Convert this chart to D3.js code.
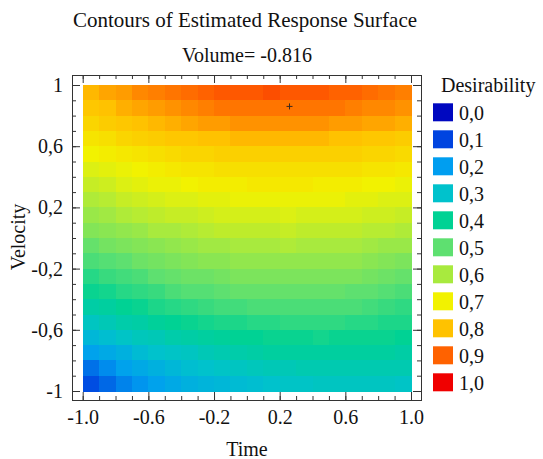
<!DOCTYPE html>
<html>
<head>
<meta charset="utf-8">
<script src="https://cdn.jsdelivr.net/npm/d3@7"></script>
<style>
  html, body { margin: 0; padding: 0; background: #fff; }
  svg { display: block; }
  text { font-family: "Liberation Serif", "Times New Roman", serif; fill: #111; }
</style>
</head>
<body>
<svg id="chart" width="543" height="459"></svg>
<script>
// ---------- data ----------
const titleText = "Contours of Estimated Response Surface";
const subtitleText = "Volume= -0.816";
const xLabel = "Time";
const yLabel = "Velocity";
const legendTitle = "Desirability";

// cell centres (Time across, Velocity down)
const timeCenters = [-0.95,-0.85,-0.75,-0.65,-0.55,-0.45,-0.35,-0.25,-0.15,-0.05,0.05,0.15,0.25,0.35,0.45,0.55,0.65,0.75,0.85,0.95];
const velocityCenters = [0.95,0.85,0.75,0.65,0.55,0.45,0.35,0.25,0.15,0.05,-0.05,-0.15,-0.25,-0.35,-0.45,-0.55,-0.65,-0.75,-0.85,-0.95];
const cellSize = 0.1;

// estimated desirability, one row per velocity centre
const desirability = [
  [0.81,0.83,0.84,0.86,0.87,0.88,0.89,0.90,0.91,0.91,0.91,0.92,0.91,0.91,0.91,0.90,0.90,0.89,0.88,0.87],
  [0.79,0.80,0.82,0.83,0.84,0.85,0.86,0.87,0.88,0.88,0.88,0.88,0.88,0.88,0.88,0.88,0.87,0.86,0.86,0.85],
  [0.76,0.78,0.79,0.80,0.81,0.82,0.83,0.84,0.84,0.85,0.85,0.85,0.85,0.85,0.85,0.84,0.84,0.83,0.83,0.82],
  [0.73,0.74,0.76,0.77,0.78,0.79,0.79,0.80,0.80,0.81,0.81,0.81,0.81,0.81,0.81,0.80,0.80,0.79,0.79,0.78],
  [0.70,0.71,0.72,0.73,0.74,0.75,0.76,0.76,0.77,0.77,0.77,0.77,0.77,0.77,0.77,0.77,0.77,0.76,0.76,0.75],
  [0.67,0.68,0.69,0.70,0.71,0.72,0.73,0.73,0.74,0.74,0.74,0.74,0.74,0.74,0.74,0.74,0.74,0.73,0.73,0.72],
  [0.64,0.65,0.67,0.68,0.69,0.69,0.70,0.71,0.71,0.71,0.72,0.72,0.72,0.72,0.71,0.71,0.71,0.70,0.70,0.69],
  [0.61,0.62,0.64,0.65,0.66,0.67,0.67,0.68,0.68,0.69,0.69,0.69,0.69,0.69,0.69,0.69,0.68,0.68,0.67,0.67],
  [0.58,0.59,0.61,0.62,0.63,0.64,0.64,0.65,0.66,0.66,0.66,0.66,0.67,0.66,0.66,0.66,0.66,0.65,0.65,0.64],
  [0.55,0.56,0.57,0.58,0.60,0.60,0.61,0.62,0.63,0.63,0.63,0.63,0.64,0.63,0.63,0.63,0.63,0.62,0.62,0.61],
  [0.51,0.53,0.54,0.55,0.56,0.57,0.58,0.59,0.59,0.60,0.60,0.60,0.61,0.60,0.60,0.60,0.60,0.59,0.58,0.58],
  [0.48,0.49,0.50,0.52,0.53,0.54,0.55,0.56,0.56,0.57,0.57,0.57,0.57,0.57,0.57,0.57,0.57,0.56,0.55,0.54],
  [0.44,0.46,0.47,0.48,0.50,0.51,0.52,0.52,0.53,0.54,0.54,0.54,0.54,0.54,0.54,0.54,0.54,0.53,0.52,0.51],
  [0.41,0.42,0.44,0.45,0.46,0.48,0.49,0.49,0.50,0.51,0.51,0.51,0.51,0.51,0.51,0.51,0.50,0.50,0.49,0.48],
  [0.37,0.38,0.40,0.41,0.43,0.44,0.45,0.46,0.47,0.47,0.48,0.48,0.48,0.48,0.48,0.48,0.48,0.47,0.46,0.45],
  [0.32,0.34,0.36,0.37,0.39,0.40,0.41,0.42,0.43,0.43,0.44,0.44,0.45,0.45,0.45,0.45,0.44,0.44,0.43,0.43],
  [0.27,0.29,0.31,0.33,0.34,0.36,0.37,0.38,0.39,0.40,0.40,0.41,0.41,0.41,0.42,0.41,0.41,0.41,0.41,0.40],
  [0.21,0.23,0.25,0.28,0.30,0.31,0.32,0.34,0.35,0.36,0.37,0.38,0.38,0.38,0.38,0.38,0.38,0.38,0.38,0.37],
  [0.15,0.18,0.21,0.23,0.25,0.27,0.29,0.30,0.31,0.32,0.33,0.34,0.34,0.35,0.35,0.35,0.35,0.35,0.35,0.35],
  [0.11,0.14,0.17,0.19,0.21,0.23,0.25,0.26,0.27,0.28,0.29,0.30,0.31,0.31,0.32,0.32,0.32,0.32,0.32,0.31]
];

const xTickValues = [-1, -0.6, -0.2, 0.2, 0.6, 1];
const xTickLabels = ["-1.0", "-0.6", "-0.2", "0.2", "0.6", "1.0"];
const yTickValues = [1, 0.6, 0.2, -0.2, -0.6, -1];
const yTickLabels = ["1", "0,6", "0,2", "-0,2", "-0,6", "-1"];
const minorTickValues = [-1,-0.9,-0.8,-0.7,-0.6,-0.5,-0.4,-0.3,-0.2,-0.1,0,0.1,0.2,0.3,0.4,0.5,0.6,0.7,0.8,0.9,1];

const legendLevels = [0, 0.1, 0.2, 0.3, 0.4, 0.5, 0.6, 0.7, 0.8, 0.9, 1.0];
const legendLabels = ["0,0","0,1","0,2","0,3","0,4","0,5","0,6","0,7","0,8","0,9","1,0"];
const legendColors = ["#0008c0","#0044e0","#009ef0","#00c2cc","#00d294","#5ee070","#a8ea3e","#f2f200","#ffc200","#ff6200","#f00000"];

const marker = [0.26, 0.86];

// ---------- layout ----------
const svg = d3.select("#chart");
const frame = { left: 72, top: 75, right: 421, bottom: 400 };
const x = d3.scaleLinear().domain([-1, 1]).range([82.7, 411]);
const y = d3.scaleLinear().domain([-1, 1]).range([391, 85]);
const color = d3.scaleLinear().domain(legendLevels).range(legendColors).interpolate(d3.interpolateRgb).clamp(true);

// ---------- cells ----------
const cells = [];
velocityCenters.forEach((v, i) => {
  timeCenters.forEach((t, j) => cells.push({ t, v, d: desirability[i][j] }));
});
svg.append("g").selectAll("rect").data(cells).join("rect")
  .attr("x", d => x(d.t - cellSize / 2))
  .attr("y", d => y(d.v + cellSize / 2))
  .attr("width", d => x(d.t + cellSize / 2) - x(d.t - cellSize / 2) + 0.6)
  .attr("height", d => y(d.v - cellSize / 2) - y(d.v + cellSize / 2) + 0.6)
  .attr("fill", d => color(d.d))
  .attr("shape-rendering", "crispEdges");

// marker
const mg = svg.append("g").attr("stroke", "#3a2a20").attr("stroke-width", 1);
mg.append("line").attr("x1", x(marker[0]) - 3).attr("x2", x(marker[0]) + 3).attr("y1", y(marker[1])).attr("y2", y(marker[1]));
mg.append("line").attr("x1", x(marker[0])).attr("x2", x(marker[0])).attr("y1", y(marker[1]) - 3).attr("y2", y(marker[1]) + 3);

// ---------- axes ----------
const fontSize = "20px";
function styleAxis(g) {
  g.select(".domain").remove();
  g.selectAll(".tick line").attr("stroke", "#333");
  g.selectAll(".tick text").style("font-family", "'Liberation Serif', serif").style("font-size", fontSize).attr("fill", "#111");
}
// bottom
svg.append("g").attr("transform", `translate(0,${frame.bottom})`)
  .call(d3.axisBottom(x).tickValues(minorTickValues).tickSize(-4).tickFormat(""))
  .call(styleAxis);
svg.append("g").attr("transform", `translate(0,${frame.bottom})`)
  .call(d3.axisBottom(x).tickValues(xTickValues).tickSize(-8).tickPadding(10)
    .tickFormat((d, i) => xTickLabels[i]))
  .call(styleAxis);
// top
svg.append("g").attr("transform", `translate(0,${frame.top})`)
  .call(d3.axisTop(x).tickValues(minorTickValues).tickSize(-4).tickFormat(""))
  .call(styleAxis);
svg.append("g").attr("transform", `translate(0,${frame.top})`)
  .call(d3.axisTop(x).tickValues(xTickValues).tickSize(-8).tickFormat(""))
  .call(styleAxis);
// left
svg.append("g").attr("transform", `translate(${frame.left},0)`)
  .call(d3.axisLeft(y).tickValues(minorTickValues).tickSize(-4).tickFormat(""))
  .call(styleAxis);
svg.append("g").attr("transform", `translate(${frame.left},0)`)
  .call(d3.axisLeft(y).tickValues(yTickValues).tickSize(-8).tickPadding(9)
    .tickFormat((d, i) => yTickLabels[i]))
  .call(styleAxis);
// right
svg.append("g").attr("transform", `translate(${frame.right},0)`)
  .call(d3.axisRight(y).tickValues(minorTickValues).tickSize(-4).tickFormat(""))
  .call(styleAxis);
svg.append("g").attr("transform", `translate(${frame.right},0)`)
  .call(d3.axisRight(y).tickValues(yTickValues).tickSize(-8).tickFormat(""))
  .call(styleAxis);

// frame
svg.append("rect")
  .attr("x", frame.left + 0.5).attr("y", frame.top + 0.5)
  .attr("width", frame.right - frame.left).attr("height", frame.bottom - frame.top)
  .attr("fill", "none").attr("stroke", "#333").attr("stroke-width", 1);

// ---------- titles ----------
svg.append("text").attr("x", 245).attr("y", 27).attr("text-anchor", "middle")
  .style("font-size", "21px").text(titleText);
svg.append("text").attr("x", 247).attr("y", 62).attr("text-anchor", "middle")
  .style("font-size", "20px").text(subtitleText);
svg.append("text").attr("x", 247).attr("y", 456).attr("text-anchor", "middle")
  .style("font-size", "20px").text(xLabel);
svg.append("text").attr("transform", "translate(25,237) rotate(-90)").attr("text-anchor", "middle")
  .style("font-size", "20px").text(yLabel);

// ---------- legend ----------
const legend = svg.append("g");
legend.append("text").attr("x", 441).attr("y", 92).style("font-size", "20px").text(legendTitle);
const items = legend.selectAll("g.item").data(legendLevels).join("g").attr("class", "item")
  .attr("transform", (d, i) => `translate(433,${103.3 + i * 27})`);
items.append("rect").attr("width", 20).attr("height", 18).attr("fill", d => color(d));
items.append("text").attr("x", 26).attr("y", 17).style("font-size", "20px").text((d, i) => legendLabels[i]);
</script>
</body>
</html>
